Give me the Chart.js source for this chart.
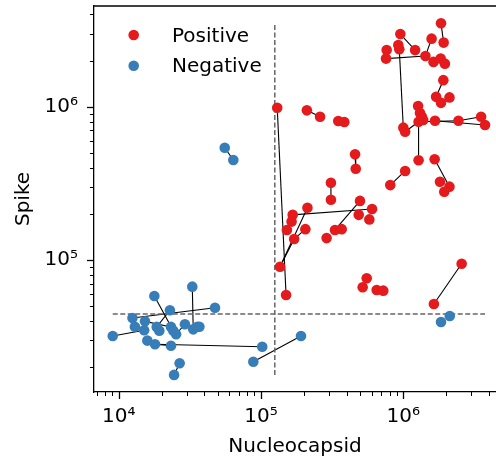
<!DOCTYPE html>
<html>
<head>
<meta charset="utf-8">
<script src="https://cdn.jsdelivr.net/npm/chart.js@4.4.1/dist/chart.umd.min.js"></script>
<style>
  html, body { margin: 0; padding: 0; background: #fff; }
  #wrap { position: relative; width: 496px; height: 463px; }
</style>
</head>
<body>
<div id="wrap"><canvas id="c"></canvas></div>
<script>
'use strict';

// Positive subjects: nucleocapsid / spike
const posN = [1.30e5, 2.10e5, 2.60e5, 3.49e5, 3.85e5, 4.58e5, 4.63e5, 3.10e5, 3.10e5, 7.64e5,
  9.22e5, 9.37e5, 7.56e5, 9.53e5, 1.21e6, 1.58e6, 1.43e6, 1.63e6, 1.83e6, 1.96e6,
  1.84e6, 1.92e6, 1.91e6, 1.70e6, 2.11e6, 1.84e6, 1.27e6, 1.31e6, 1.35e6, 1.28e6,
  1.38e6, 1.67e6, 2.44e6, 3.52e6, 3.75e6, 1.00e6, 1.03e6, 1.28e6, 1.66e6, 1.03e6,
  8.10e5, 1.81e6, 2.11e6, 1.94e6, 4.96e5, 6.03e5, 4.86e5, 5.77e5, 2.12e5, 1.67e5,
  1.64e5, 1.52e5, 1.71e5, 2.05e5, 3.31e5, 3.69e5, 2.89e5, 1.36e5, 1.50e5, 5.53e5,
  5.18e5, 6.50e5, 7.23e5, 2.57e6, 1.64e6];
const posS = [9.85e5, 9.47e5, 8.60e5, 8.07e5, 7.95e5, 4.89e5, 3.94e5, 3.19e5, 2.47e5, 2.34e6,
  2.53e6, 2.37e6, 2.06e6, 2.98e6, 2.34e6, 2.78e6, 2.14e6, 1.96e6, 2.06e6, 1.91e6,
  3.50e6, 2.62e6, 1.49e6, 1.16e6, 1.15e6, 1.06e6, 1.01e6, 9.10e5, 8.60e5, 7.98e5,
  8.19e5, 8.10e5, 8.10e5, 8.60e5, 7.60e5, 7.30e5, 6.87e5, 4.47e5, 4.54e5, 3.81e5,
  3.08e5, 3.24e5, 3.01e5, 2.79e5, 2.43e5, 2.15e5, 1.97e5, 1.84e5, 2.19e5, 1.97e5,
  1.78e5, 1.57e5, 1.37e5, 1.59e5, 1.57e5, 1.59e5, 1.39e5, 9.04e4, 5.91e4, 7.60e4,
  6.64e4, 6.37e4, 6.31e4, 9.46e4, 5.16e4];
// same-subject samples joined by a line (index pairs)
const posLinks = [[0, 58], [1, 2], [5, 6], [7, 8], [13, 14], [15, 16], [12, 16], [20, 21],
  [11, 35], [22, 23], [36, 29], [29, 32], [32, 33], [31, 34], [29, 37], [38, 42],
  [39, 40], [44, 54], [49, 45], [57, 48], [57, 52], [52, 53], [63, 64]];

// Negative subjects
const negN = [5.56e4, 6.39e4, 3.29e4, 1.78e4, 4.75e4, 2.29e4, 1.25e4, 1.53e4, 1.30e4, 1.85e4,
  1.93e4, 1.51e4, 2.33e4, 2.42e4, 2.53e4, 2.92e4, 3.34e4, 3.57e4, 3.69e4, 9.08e3,
  1.59e4, 1.80e4, 2.33e4, 1.02e5, 8.83e4, 2.68e4, 2.45e4, 1.91e5, 1.84e6, 2.12e6];
const negS = [5.40e5, 4.49e5, 6.70e4, 5.82e4, 4.88e4, 4.70e4, 4.18e4, 3.98e4, 3.67e4, 3.66e4,
  3.46e4, 3.48e4, 3.66e4, 3.46e4, 3.28e4, 3.81e4, 3.53e4, 3.67e4, 3.67e4, 3.19e4,
  2.98e4, 2.82e4, 2.76e4, 2.72e4, 2.17e4, 2.12e4, 1.78e4, 3.19e4, 3.94e4, 4.31e4];
const negLinks = [[0, 1], [2, 16], [3, 13], [4, 6], [5, 9], [19, 11], [21, 23], [21, 22],
  [24, 27], [25, 26], [15, 14], [7, 12]];

// cut-offs
const cutN = 1.25e5;
const cutS = 4.45e4;

const groupLabels = ['Positive', 'Negative'];
const xMajor = [1e4, 1e5, 1e6];
const xTickLabels = ['10⁴', '10⁵', '10⁶'];
const yMajor = [1e5, 1e6];
const yTickLabels = ['10⁵', '10⁶'];

const RED = '#E41A1C';
const BLUE = '#377EB8';
const FONT = 'DejaVu Sans';

function toPts(xs, ys) {
  return xs.map((x, i) => ({ x, y: ys[i] }));
}

function linkSets(xs, ys, links) {
  return links.map(([a, b]) => ({
    type: 'line',
    data: [{ x: xs[a], y: ys[a] }, { x: xs[b], y: ys[b] }],
    borderColor: '#000',
    borderWidth: 1.1,
    pointRadius: 0,
    fill: false,
    tension: 0,
    order: 3,
  }));
}

function dashed(data) {
  return {
    type: 'line',
    data,
    borderColor: '#666',
    borderWidth: 1.5,
    borderDash: [5, 2.5],
    pointRadius: 0,
    fill: false,
    order: 2,
  };
}

function logTicks(min, max) {
  const out = [];
  for (let e = Math.floor(Math.log10(min)); e <= Math.ceil(Math.log10(max)); e++) {
    for (let m = 1; m < 10; m++) {
      const v = m * Math.pow(10, e);
      if (v >= min && v <= max) out.push({ value: v, major: m === 1 });
    }
  }
  return out;
}

function majorLabel(majors, labels) {
  return v => {
    const i = majors.findIndex(t => Math.abs(t - v) / t < 1e-9);
    return i < 0 ? '' : labels[i];
  };
}

// fixed axis box, no label overflow padding
function fixBox(size, horizontal) {
  return sc => {
    if (horizontal) sc.height = size; else sc.width = size;
    sc.paddingTop = sc.paddingBottom = sc.paddingLeft = sc.paddingRight = 0;
  };
}

const allN = posN.concat(negN);
const allS = posS.concat(negS);
const minN = Math.min(...allN), maxN = Math.max(...allN);
const minS = Math.min(...allS), maxS = Math.max(...allS);

// top spine, tick marks, legend inside the axes
const decor = {
  id: 'decor',
  afterDraw(chart) {
    const { ctx, chartArea: a, scales } = chart;
    ctx.save();
    ctx.strokeStyle = '#000';
    ctx.lineWidth = 1.3;
    ctx.beginPath();
    ctx.moveTo(a.left, a.top);
    ctx.lineTo(a.right, a.top);
    ctx.stroke();

    scales.x.ticks.forEach(t => {
      const px = Math.round(scales.x.getPixelForValue(t.value)) + 0.5;
      ctx.lineWidth = t.major ? 1.3 : 1;
      ctx.beginPath();
      ctx.moveTo(px, a.bottom);
      ctx.lineTo(px, a.bottom + (t.major ? 7 : 4));
      ctx.stroke();
    });
    scales.y.ticks.forEach(t => {
      const py = Math.round(scales.y.getPixelForValue(t.value)) + 0.5;
      ctx.lineWidth = t.major ? 1.3 : 1;
      ctx.beginPath();
      ctx.moveTo(a.left, py);
      ctx.lineTo(a.left - (t.major ? 7 : 4), py);
      ctx.stroke();
    });

    ctx.font = '20px "' + FONT + '"';
    ctx.textBaseline = 'alphabetic';
    [0, 1].forEach((di, k) => {
      const ds = chart.data.datasets[di];
      const cy = a.top + 29 + k * 30.7;
      ctx.beginPath();
      ctx.arc(a.left + 39.7, cy, 5.3, 0, Math.PI * 2);
      ctx.fillStyle = ds.backgroundColor;
      ctx.fill();
      ctx.fillStyle = '#000';
      ctx.fillText(ds.label, a.left + 78, cy + 6.5);
    });
    ctx.restore();
  },
};

const tickFont = { family: FONT, size: 20 };

new Chart(document.getElementById('c'), {
  type: 'scatter',
  data: {
    datasets: [
      {
        label: groupLabels[0],
        data: toPts(posN, posS),
        backgroundColor: RED,
        borderWidth: 0,
        pointRadius: 5.3,
        order: 0,
      },
      {
        label: groupLabels[1],
        data: toPts(negN, negS),
        backgroundColor: BLUE,
        borderWidth: 0,
        pointRadius: 5.3,
        order: 1,
      },
      dashed([{ x: cutN, y: minS }, { x: cutN, y: maxS }]),
      dashed([{ x: minN, y: cutS }, { x: maxN, y: cutS }]),
      ...linkSets(posN, posS, posLinks),
      ...linkSets(negN, negS, negLinks),
    ],
  },
  options: {
    responsive: true,
    maintainAspectRatio: false,
    animation: false,
    layout: { autoPadding: false, padding: { left: 0, top: 6, right: 0, bottom: 0 } },
    plugins: {
      legend: { display: false },
      tooltip: { enabled: false },
    },
    scales: {
      x: {
        type: 'logarithmic',
        min: 6706,
        max: 4.48e6,
        afterBuildTicks: sc => { sc.ticks = logTicks(sc.min, sc.max); },
        afterFit: fixBox(71, true),
        grid: { display: false, drawTicks: false },
        border: { display: true, color: '#000', width: 1.3 },
        ticks: {
          autoSkip: false,
          maxRotation: 0,
          padding: 12.5,
          color: '#000',
          font: tickFont,
          callback: majorLabel(xMajor, xTickLabels),
        },
        title: {
          display: true,
          text: 'Nucleocapsid',
          color: '#000',
          font: { family: FONT, size: 20 },
          padding: { top: 0, bottom: 4 },
        },
      },
      y: {
        type: 'logarithmic',
        min: 13770,
        max: 4.54e6,
        afterBuildTicks: sc => { sc.ticks = logTicks(sc.min, sc.max); },
        afterFit: fixBox(94, false),
        grid: { display: false, drawTicks: false },
        border: { display: true, color: '#000', width: 1.3 },
        ticks: {
          autoSkip: false,
          padding: 16,
          color: '#000',
          font: tickFont,
          callback: majorLabel(yMajor, yTickLabels),
        },
        title: {
          display: true,
          text: 'Spike',
          color: '#000',
          font: { family: FONT, size: 20 },
          padding: { top: 11.3, bottom: 0 },
        },
      },
    },
  },
  plugins: [decor],
});
</script>
</body>
</html>
